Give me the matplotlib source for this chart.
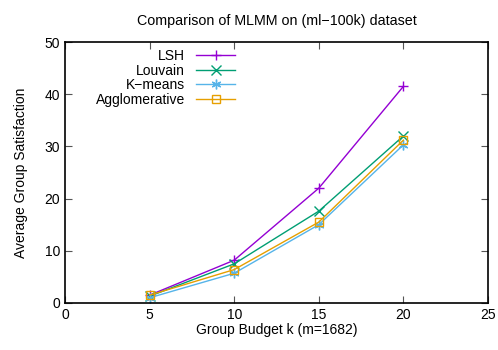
import matplotlib
matplotlib.use("Agg")
import matplotlib.pyplot as plt

plt.rcParams['font.family'] = ['Liberation Sans', 'DejaVu Sans']

k = [5, 10, 15, 20]
lsh = [1.5, 8.2, 22.0, 41.5]
louvain = [1.3, 7.5, 17.6, 32.0]
kmeans = [1.0, 5.7, 15.0, 30.3]
agglo = [1.5, 6.4, 15.5, 31.2]

series = [
    ("LSH", lsh, "#9400d3", "+"),
    ("Louvain", louvain, "#009e73", "x"),
    ("K\u2212means", kmeans, "#56b4e9", (6, 2, 0)),
    ("Agglomerative", agglo, "#e69f00", "s"),
]

fig = plt.figure(figsize=(4.98, 3.5), dpi=100)
ax = fig.add_axes([65/498, 47/350, 423/498, 261/350])

for name, vals, col, m in series:
    if m == "s":
        ax.plot(k, vals, color=col, marker=m, markersize=6, markerfacecolor='none',
                markeredgewidth=1, linewidth=1, label=name)
    else:
        ax.plot(k, vals, color=col, marker=m, markersize=7, markeredgewidth=1,
                linewidth=1, label=name)

ax.set_xlim(0, 25)
ax.set_ylim(0, 50)
ax.set_xticks([0, 5, 10, 15, 20, 25])
ax.set_yticks([0, 10, 20, 30, 40, 50])
ax.tick_params(direction='in', top=True, right=True, length=5, labelsize=10, color='#555555')
for s in ax.spines.values():
    s.set_linewidth(1.2)

ax.set_title("Comparison of MLMM on (ml\u2212100k) dataset", fontsize=10.3, pad=12)
ax.set_xlabel("Group Budget k (m=1682)", fontsize=10, labelpad=1)
ax.set_ylabel("Average Group Satisfaction", fontsize=10, labelpad=12)

ax.legend(loc='upper right', markerfirst=False, frameon=False, fontsize=10,
          handlelength=2.8, handletextpad=0.8, borderaxespad=0.0, labelspacing=0.05,
          bbox_to_anchor=(0.415, 0.995))

fig.savefig("out.png", dpi=100)
